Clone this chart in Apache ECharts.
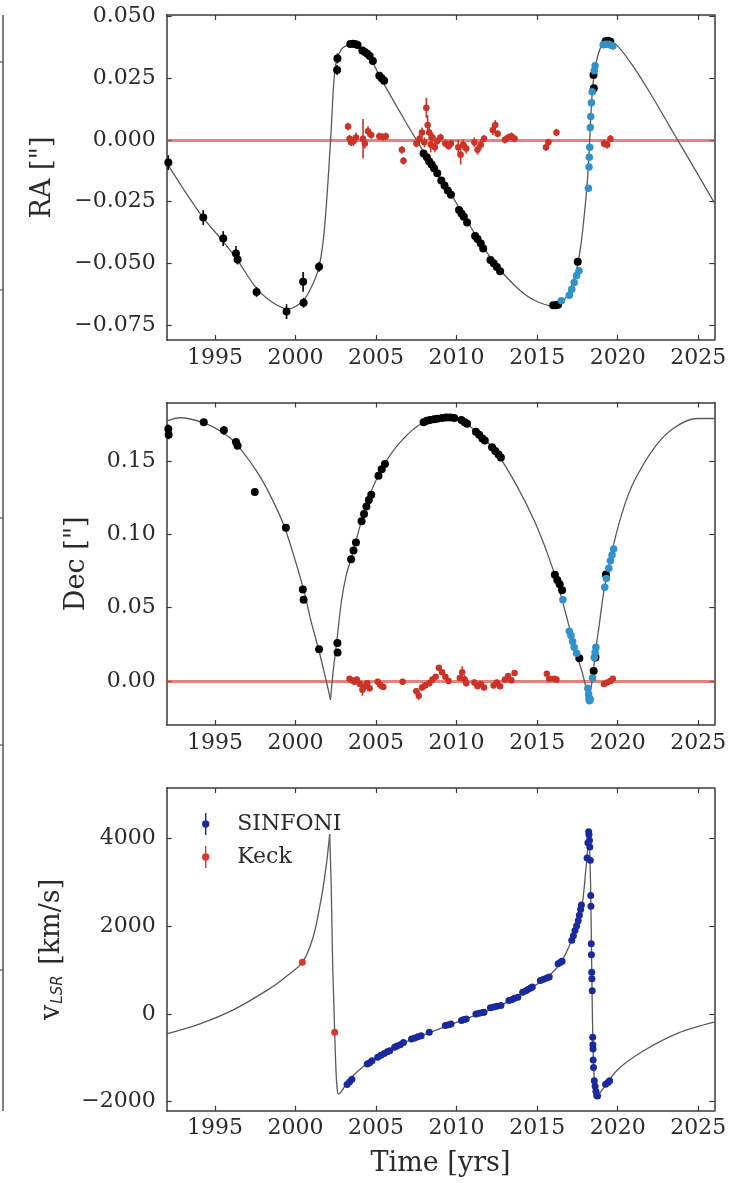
<!DOCTYPE html>
<html><head><meta charset="utf-8">
<script src="https://cdn.jsdelivr.net/npm/echarts@6/dist/echarts.min.js"></script>
<style>html,body{margin:0;padding:0;background:#fff}#c{width:733px;height:1183px}</style>
</head><body><div id="c"></div>
<script>
// ---------------- DATA ----------------
const xTicks = [1995, 2000, 2005, 2010, 2015, 2020, 2025];
const raTicks = [-0.075, -0.05, -0.025, 0, 0.025, 0.05];
const decTicks = [0, 0.05, 0.10, 0.15];
const rvTicks = [-2000, 0, 2000, 4000];

// orbit model, RA ["]  [year, value]
const raModel = [[1992.0,-0.0092],[1993.0,-0.0195],[1994.27,-0.0316],[1995.51,-0.0412],[1996.34,-0.0482],[1997.58,-0.0602],[1998.6,-0.0660],[1999.54,-0.0685],[2000.47,-0.0652],[2001.0,-0.0595],[2001.46,-0.0515],[2001.75,-0.0390],[2001.95,-0.0230],[2002.1,-0.0080],[2002.23,0.0060],[2002.37,0.0230],[2002.54,0.0320],[2002.85,0.0368],[2003.2,0.0383],[2003.57,0.0388],[2004.0,0.0373],[2004.5,0.0346],[2005.33,0.0245],[2006.4,0.0122],[2007.5,0.000],[2008.7,-0.0126],[2009.67,-0.0222],[2010.49,-0.0312],[2011.53,-0.0421],[2012.46,-0.0508],[2013.8,-0.0602],[2014.83,-0.0650],[2015.97,-0.0673],[2016.59,-0.0655],[2017.0,-0.0612],[2017.31,-0.0560],[2017.52,-0.0505],[2017.75,-0.0410],[2017.95,-0.0290],[2018.1,-0.0185],[2018.22,-0.0060],[2018.3,0.0050],[2018.4,0.0170],[2018.51,0.0250],[2018.76,0.0340],[2019.07,0.0390],[2019.38,0.0402],[2020.0,0.0380],[2021.03,0.0292],[2022.07,0.0184],[2023.72,0.000],[2024.96,-0.0138],[2026.0,-0.0255]];

// orbit model, Dec ["], split at the two cusps
const decModel = [
  [[1992.0,0.1773],[1992.82,0.1796],[1994.27,0.1762],[1995.51,0.1694],[1996.34,0.1614],[1997.58,0.1432],[1998.4,0.1273],[1999.33,0.1046],[2000.47,0.0637],[2000.96,0.0409],[2001.46,0.0205],[2001.81,0.0046],[2002.02,-0.0054],[2002.17,-0.0128]],
  [[2002.17,-0.0128],[2002.35,0.0080],[2002.54,0.0250],[2002.85,0.0546],[2003.16,0.0727],[2003.47,0.0841],[2004.4,0.1205],[2005.33,0.1443],[2006.46,0.1625],[2007.91,0.1762],[2009.46,0.1796],[2010.49,0.1762],[2011.53,0.1671],[2012.56,0.1546],[2013.8,0.1319],[2014.83,0.1091],[2015.66,0.0864],[2016.28,0.0659],[2016.9,0.0409],[2017.52,0.0160],[2017.83,0.0046],[2018.22,-0.0128]],
  [[2018.22,-0.0128],[2018.44,0.0020],[2018.6,0.0180],[2018.86,0.0387],[2019.18,0.0637],[2019.8,0.0955],[2020.4,0.1190],[2021.03,0.1364],[2022.27,0.1591],[2023.51,0.1728],[2024.96,0.1791],[2026.0,0.1791]]
];

// orbit model, v_LSR [km/s], split at the two peaks
const rvModel = [
  [[1992.0,-456],[1994.06,-228],[1996.13,91],[1998.2,531],[1999.23,797],[2000.42,1175],[2001.09,1745],[2001.61,2656],[2001.92,3417],[2002.05,3850],[2002.12,4100]],
  [[2002.12,4100],[2002.22,2800],[2002.3,1200],[2002.38,200],[2002.43,-419],[2002.5,-1200],[2002.57,-1650],[2002.65,-1822],[2002.8,-1790],[2003.0,-1680],[2003.38,-1480],[2004.49,-1118],[2006.04,-770],[2008.26,-434],[2010.48,-125],[2012.69,185],[2014.47,555],[2015.58,821],[2016.46,1163],[2017.13,1658],[2017.57,2120],[2017.81,2510],[2018.02,3270],[2018.15,3800],[2018.24,4129]],
  [[2018.24,4129],[2018.32,2900],[2018.38,1300],[2018.44,-200],[2018.5,-1100],[2018.58,-1600],[2018.7,-1860],[2018.85,-1820],[2019.12,-1689],[2020.0,-1270],[2021.56,-852],[2023.78,-434],[2026.0,-190]]
];

// RA measurements [year, value, error]
const raBlack = [[1992.1,-0.0092,0.003],[1994.27,-0.0315,0.003],[1995.51,-0.0400,0.003],[1996.3,-0.0460,0.003],[1996.4,-0.0485,0.002],[1997.58,-0.0616,0.002],[1999.44,-0.0696,0.003],[2000.47,-0.0575,0.004],[2000.5,-0.0660,0.002],[2001.46,-0.0514,0.002],[2002.58,0.0283,0.002],[2002.6,0.0330,0.002],[2003.4,0.0388,0.001],[2003.55,0.0390,0.001],[2003.7,0.0388,0.001],[2003.85,0.0384,0.001],[2004.15,0.0362,0.001],[2004.3,0.0356,0.001],[2004.45,0.0349,0.001],[2004.6,0.0340,0.001],[2004.8,0.0320,0.001],[2005.2,0.0260,0.001],[2005.35,0.0250,0.001],[2005.5,0.0240,0.001],[2007.95,-0.0055,0.001],[2008.15,-0.0070,0.001],[2008.3,-0.0088,0.001],[2008.45,-0.0100,0.001],[2008.6,-0.0115,0.001],[2008.8,-0.0135,0.001],[2009.05,-0.0165,0.001],[2009.25,-0.0185,0.001],[2009.45,-0.0205,0.001],[2009.65,-0.0222,0.001],[2010.15,-0.0284,0.001],[2010.3,-0.0298,0.001],[2010.45,-0.0312,0.001],[2010.65,-0.0335,0.001],[2011.15,-0.0390,0.001],[2011.3,-0.0402,0.001],[2011.5,-0.0420,0.001],[2011.65,-0.0440,0.001],[2012.1,-0.0487,0.001],[2012.3,-0.0500,0.001],[2012.5,-0.0515,0.001],[2012.7,-0.0532,0.001],[2016.0,-0.0670,0.001],[2016.15,-0.0670,0.001],[2016.3,-0.0668,0.001],[2017.52,-0.0494,0.001],[2018.5,0.0263,0.001],[2018.52,0.0209,0.001],[2019.25,0.0400,0.001],[2019.4,0.0402,0.001],[2019.55,0.0398,0.001]];
const raBlue = [[2016.5,-0.0652,0.001],[2017.0,-0.0630,0.001],[2017.15,-0.0605,0.001],[2017.3,-0.0578,0.001],[2017.45,-0.0550,0.001],[2017.6,-0.0530,0.001],[2018.18,-0.0196,0.001],[2018.22,-0.0110,0.001],[2018.24,-0.0070,0.001],[2018.27,-0.0030,0.001],[2018.3,0.0050,0.001],[2018.33,0.0095,0.001],[2018.37,0.0150,0.001],[2018.42,0.0195,0.001],[2018.55,0.0280,0.001],[2018.6,0.0300,0.001],[2019.1,0.0385,0.001],[2019.25,0.0387,0.001],[2019.4,0.0387,0.001],[2019.55,0.0384,0.001],[2019.7,0.0380,0.001]];
const raRed = [[2003.26,0.0054,0.0015],[2003.35,0.0005,0.0015],[2003.45,-0.0010,0.0015],[2003.6,-0.0005,0.002],[2003.75,0.0010,0.002],[2004.19,0.0005,0.008],[2004.3,-0.0015,0.002],[2004.5,0.0035,0.002],[2004.7,0.0020,0.0015],[2005.2,0.0015,0.0015],[2005.4,0.0012,0.0015],[2005.6,0.0015,0.0015],[2006.6,-0.0040,0.0015],[2006.7,-0.0085,0.0015],[2007.5,-0.0015,0.0015],[2007.7,0.0005,0.002],[2007.85,0.0030,0.002],[2008.0,-0.0010,0.002],[2008.12,0.0130,0.004],[2008.2,0.0060,0.004],[2008.3,0.0030,0.003],[2008.4,-0.0020,0.003],[2008.5,0.0010,0.002],[2008.65,-0.0030,0.002],[2008.8,-0.0005,0.0015],[2009.0,0.0010,0.0015],[2009.3,-0.0015,0.0015],[2009.5,-0.0025,0.0015],[2009.65,-0.0015,0.0015],[2010.1,-0.0030,0.003],[2010.25,-0.0060,0.004],[2010.4,-0.0020,0.002],[2010.6,-0.0035,0.002],[2011.1,-0.0010,0.002],[2011.3,-0.0040,0.002],[2011.5,-0.0020,0.002],[2011.7,0.0005,0.0015],[2012.25,0.0040,0.002],[2012.4,0.0060,0.002],[2012.55,0.0025,0.0015],[2013.0,0.0000,0.0015],[2013.2,0.0010,0.0015],[2013.4,0.0015,0.0015],[2013.6,0.0005,0.0015],[2015.55,-0.0030,0.0015],[2015.7,-0.0010,0.0015],[2016.2,0.0030,0.0015],[2019.15,-0.0015,0.0015],[2019.35,-0.0020,0.0015],[2019.55,0.0005,0.0015]];

// Dec measurements [year, value, error]
const decBlack = [[1992.1,0.1720,0.003],[1992.12,0.1680,0.003],[1994.3,0.1765,0.002],[1995.55,0.1710,0.003],[1996.3,0.1630,0.002],[1996.4,0.1605,0.002],[1997.47,0.1289,0.002],[1999.4,0.1046,0.002],[2000.45,0.0625,0.002],[2000.5,0.0555,0.002],[2001.46,0.0216,0.001],[2002.6,0.0260,0.002],[2002.61,0.0195,0.002],[2003.45,0.0830,0.001],[2003.6,0.0890,0.001],[2003.75,0.0945,0.001],[2004.1,0.1090,0.001],[2004.25,0.1140,0.001],[2004.4,0.1190,0.001],[2004.55,0.1235,0.001],[2004.7,0.1270,0.001],[2005.15,0.1400,0.001],[2005.35,0.1445,0.001],[2005.55,0.1480,0.001],[2007.95,0.1765,0.001],[2008.15,0.1775,0.001],[2008.35,0.1780,0.001],[2008.6,0.1785,0.001],[2008.8,0.1790,0.001],[2009.1,0.1795,0.001],[2009.35,0.1797,0.001],[2009.6,0.1797,0.001],[2009.85,0.1795,0.001],[2010.3,0.1780,0.001],[2010.5,0.1765,0.001],[2010.65,0.1755,0.001],[2011.2,0.1700,0.001],[2011.4,0.1680,0.001],[2011.6,0.1655,0.001],[2011.75,0.1640,0.001],[2012.2,0.1595,0.001],[2012.4,0.1570,0.001],[2012.6,0.1545,0.001],[2012.75,0.1525,0.001],[2016.1,0.0725,0.001],[2016.25,0.0690,0.001],[2016.4,0.0660,0.001],[2016.55,0.0620,0.001],[2017.62,0.0155,0.001],[2018.51,0.0068,0.001],[2018.62,0.0160,0.001],[2019.27,0.0727,0.001]];
const decBlue = [[2016.6,0.0555,0.001],[2017.0,0.0340,0.001],[2017.1,0.0310,0.001],[2017.2,0.0270,0.001],[2017.3,0.0230,0.001],[2017.45,0.0190,0.001],[2018.15,-0.0050,0.001],[2018.2,-0.0090,0.001],[2018.22,-0.0120,0.001],[2018.25,-0.0135,0.001],[2018.3,-0.0125,0.001],[2018.44,0.0020,0.001],[2018.55,0.0160,0.001],[2018.6,0.0195,0.001],[2018.65,0.0230,0.001],[2019.2,0.0640,0.001],[2019.3,0.0700,0.001],[2019.45,0.0770,0.001],[2019.55,0.0820,0.001],[2019.65,0.0860,0.001],[2019.75,0.0900,0.001]];
const decRed = [[2003.35,0.0015,0.0015],[2003.5,0.0005,0.0015],[2003.65,-0.0005,0.0015],[2003.8,0.0010,0.0015],[2004.0,-0.0020,0.002],[2004.15,-0.0060,0.004],[2004.3,-0.0035,0.003],[2004.45,-0.0015,0.002],[2004.6,-0.0050,0.002],[2005.1,-0.0005,0.002],[2005.25,-0.0025,0.003],[2005.45,-0.0040,0.002],[2006.65,-0.0005,0.002],[2007.5,-0.0070,0.002],[2007.65,-0.0100,0.003],[2007.85,-0.0045,0.002],[2008.05,-0.0030,0.002],[2008.3,-0.0015,0.002],[2008.5,0.0010,0.002],[2008.7,0.0030,0.0015],[2008.9,0.0090,0.0015],[2009.1,0.0060,0.0015],[2009.3,0.0030,0.0015],[2009.5,0.0000,0.002],[2010.2,0.0020,0.002],[2010.35,0.0060,0.004],[2010.5,0.0010,0.003],[2010.6,-0.0015,0.002],[2011.1,-0.0010,0.002],[2011.3,-0.0035,0.002],[2011.5,-0.0020,0.002],[2011.7,-0.0045,0.002],[2012.3,-0.0030,0.002],[2012.5,-0.0010,0.002],[2012.7,-0.0035,0.002],[2013.0,0.0010,0.002],[2013.2,0.0035,0.002],[2013.4,0.0005,0.002],[2013.6,0.0055,0.002],[2015.6,0.0050,0.0015],[2015.75,0.0015,0.0015],[2016.05,0.0015,0.0015],[2016.2,0.0010,0.0015],[2019.15,-0.0020,0.0015],[2019.35,-0.0010,0.0015],[2019.55,0.0000,0.0015],[2019.7,0.0015,0.0015]];

// radial velocity measurements [year, km/s]
const rvSinfoni = [[2003.2,-1610],[2003.35,-1550],[2003.5,-1490],[2004.45,-1140],[2004.6,-1110],[2004.75,-1070],[2005.1,-990],[2005.3,-940],[2005.5,-900],[2005.7,-860],[2005.85,-840],[2006.15,-760],[2006.3,-730],[2006.5,-700],[2006.7,-650],[2007.2,-570],[2007.4,-550],[2007.6,-520],[2007.8,-495],[2008.3,-420],[2009.3,-265],[2009.5,-245],[2009.65,-230],[2010.3,-150],[2010.45,-130],[2010.6,-115],[2011.2,0],[2011.4,15],[2011.6,30],[2011.7,38],[2012.1,140],[2012.3,160],[2012.5,175],[2012.75,190],[2013.25,305],[2013.45,330],[2013.6,355],[2013.8,380],[2014.1,495],[2014.3,530],[2014.45,560],[2014.6,590],[2014.7,610],[2015.2,760],[2015.4,790],[2015.6,820],[2015.75,840],[2016.3,1140],[2016.45,1175],[2016.55,1200],[2017.15,1680],[2017.25,1780],[2017.35,1900],[2017.45,2000],[2017.55,2120],[2017.62,2250],[2017.7,2380],[2017.75,2480],[2018.1,3550],[2018.15,3900],[2018.2,4150],[2018.22,4080],[2018.25,3950],[2018.27,3800],[2018.3,3500],[2018.33,2700],[2018.34,2450],[2018.36,1600],[2018.37,1350],[2018.39,950],[2018.4,800],[2018.42,530],[2018.45,-530],[2018.46,-700],[2018.47,-800],[2018.48,-1050],[2018.5,-1220],[2018.55,-1520],[2018.6,-1650],[2018.65,-1760],[2018.7,-1860],[2018.75,-1870],[2019.25,-1600],[2019.4,-1560],[2019.5,-1520]];
const rvKeck = [[2000.42,1175],[2002.43,-419]];

// ---------------- CHART ----------------
const FONT = "'DejaVu Serif', serif";
const TXT = '#2b2b2b';
const AX = '#3a3a3a';
const BLACK = '#000000', BLUE = '#2f92cc', RED = '#cc3326', NAVY = '#1a2a9c', KRED = '#d9372b';
const fmtMinus = s => s.replace('-', '\u2212');

const grids = [
  {left:166.7, top:15, width:547.6, height:325},
  {left:166.7, top:402.5, width:547.6, height:322.5},
  {left:166.7, top:788, width:547.6, height:322.7}
].map(g => Object.assign({containLabel:false, outerBoundsMode:'none'}, g));

const xAxes = [], yAxes = [];
const yCfg = [
  {min:-0.0811, max:0.0506, ticks:raTicks, fmt:v => fmtMinus(v.toFixed(3)), name:'RA ["]', gap:110},
  {min:-0.030, max:0.190, ticks:decTicks, fmt:v => v.toFixed(2), name:'Dec ["]', gap:76},
  {min:-2205, max:5146, ticks:rvTicks, fmt:v => fmtMinus(String(v)), name:'{v|v}{s|LSR} [km/s]', gap:101}
];
grids.forEach((g, i) => {
  const line = {show:true, onZero:false, lineStyle:{color:AX, width:1.5}};
  const tick = {show:true, inside:true, length:5, customValues:xTicks, lineStyle:{color:AX, width:1.2}};
  xAxes.push({gridIndex:i, type:'value', min:1992, max:2026, position:'bottom', axisLine:line, axisTick:tick,
    axisLabel:{show:true, customValues:xTicks, formatter:v => String(v), margin:7, fontFamily:FONT, fontSize:22, color:TXT},
    splitLine:{show:false},
    name: i === 2 ? 'Time [yrs]' : '', nameLocation:'middle', nameGap:40,
    nameTextStyle:{fontFamily:FONT, fontSize:27, color:TXT}});
  xAxes.push({gridIndex:i, type:'value', min:1992, max:2026, position:'top', axisLine:line, axisTick:tick,
    axisLabel:{show:false}, splitLine:{show:false}});
  const c = yCfg[i];
  const ytick = {show:true, inside:true, length:5, customValues:c.ticks, lineStyle:{color:AX, width:1.2}};
  yAxes.push({gridIndex:i, type:'value', min:c.min, max:c.max, position:'left', axisLine:line, axisTick:ytick,
    axisLabel:{show:true, customValues:c.ticks, formatter:c.fmt, margin:11, fontFamily:FONT, fontSize:22, color:TXT},
    splitLine:{show:false},
    name:c.name, nameLocation:'middle', nameGap:c.gap, nameRotate:90,
    nameTextStyle:{fontFamily:FONT, fontSize:27, color:TXT,
      rich:{v:{fontFamily:FONT, fontSize:27, color:TXT},
            s:{fontFamily:"'DejaVu Sans', sans-serif", fontStyle:'italic', fontSize:15, color:TXT, padding:[12,2,0,1]}}}});
  yAxes.push({gridIndex:i, type:'value', min:c.min, max:c.max, position:'right', axisLine:line, axisTick:ytick,
    axisLabel:{show:false}, splitLine:{show:false}});
});

const series = [];
function model(data, gi, zero) {
  const s = {type:'line', xAxisIndex:2*gi, yAxisIndex:2*gi, data:data, showSymbol:false, symbol:'none',
    smooth:0.3, lineStyle:{color:'#5a5a5a', width:1.3}, z:2, silent:true};
  if (zero) s.markLine = {symbol:'none', silent:true, label:{show:false},
    lineStyle:{color:'rgba(214,80,70,0.7)', width:3, type:'solid'}, data:[{yAxis:0}], z:1};
  series.push(s);
}
function errbars(data, color, gi, z) {
  series.push({type:'custom', xAxisIndex:2*gi, yAxisIndex:2*gi, data:data, z:z, silent:true, clip:true,
    renderItem:(params, api) => {
      const x = api.value(0), y = api.value(1), e = api.value(2);
      const p1 = api.coord([x, y - e]), p2 = api.coord([x, y + e]);
      return {type:'line', shape:{x1:p1[0], y1:p1[1], x2:p2[0], y2:p2[1]}, style:{stroke:color, lineWidth:1.6}};
    }});
}
function dots(data, color, gi, size, z, name) {
  series.push({type:'scatter', name:name, xAxisIndex:2*gi, yAxisIndex:2*gi, data:data, symbol:'circle',
    symbolSize:size, itemStyle:{color:color, opacity:1}, z:z, silent:true});
}

// Panel 1: RA
model(raModel, 0, true);
errbars(raBlack, BLACK, 0, 3); dots(raBlack, BLACK, 0, 8, 4);
errbars(raRed, RED, 0, 3); dots(raRed, RED, 0, 6.5, 4);
errbars(raBlue, BLUE, 0, 5); dots(raBlue, BLUE, 0, 7.5, 6);
// Panel 2: Dec
decModel.forEach((seg, k) => model(seg, 1, k === 0));
errbars(decBlack, BLACK, 1, 3); dots(decBlack, BLACK, 1, 8, 4);
errbars(decRed, RED, 1, 3); dots(decRed, RED, 1, 6.5, 4);
errbars(decBlue, BLUE, 1, 5); dots(decBlue, BLUE, 1, 7.5, 6);
// Panel 3: v_LSR
rvModel.forEach(seg => model(seg, 2, false));
dots(rvSinfoni, NAVY, 2, 7, 5, 'SINFONI');
dots(rvKeck, KRED, 2, 7, 5, 'Keck');

const ERRICON = 'path://M3.3,0 L4.7,0 L4.7,22 L3.3,22 Z M4,7.3 A3.7,3.7 0 1,1 4,14.7 A3.7,3.7 0 1,1 4,7.3 Z';

const chart = echarts.init(document.getElementById('c'), null, {renderer:'canvas'});
chart.setOption({
  animation:false,
  backgroundColor:'#ffffff',
  grid:grids, xAxis:xAxes, yAxis:yAxes, series:series,
  legend:{show:true, orient:'vertical', left:197, top:808, itemWidth:9, itemHeight:22, itemGap:11,
    selectedMode:false,
    data:[{name:'SINFONI', icon:ERRICON}, {name:'Keck', icon:ERRICON}],
    textStyle:{fontFamily:FONT, fontSize:22, color:TXT, padding:[0,0,0,22]}},
  graphic:[
    {type:'line', shape:{x1:3, y1:15, x2:3, y2:1111}, style:{stroke:'#555', lineWidth:1.5}, silent:true},
    {type:'line', shape:{x1:0, y1:62, x2:3, y2:62}, style:{stroke:'#555', lineWidth:1.2}, silent:true},
    {type:'line', shape:{x1:0, y1:290, x2:3, y2:290}, style:{stroke:'#555', lineWidth:1.2}, silent:true},
    {type:'line', shape:{x1:0, y1:518, x2:3, y2:518}, style:{stroke:'#555', lineWidth:1.2}, silent:true},
    {type:'line', shape:{x1:0, y1:745, x2:3, y2:745}, style:{stroke:'#555', lineWidth:1.2}, silent:true},
    {type:'line', shape:{x1:0, y1:970, x2:3, y2:970}, style:{stroke:'#555', lineWidth:1.2}, silent:true}
  ]
});
</script></body></html>
